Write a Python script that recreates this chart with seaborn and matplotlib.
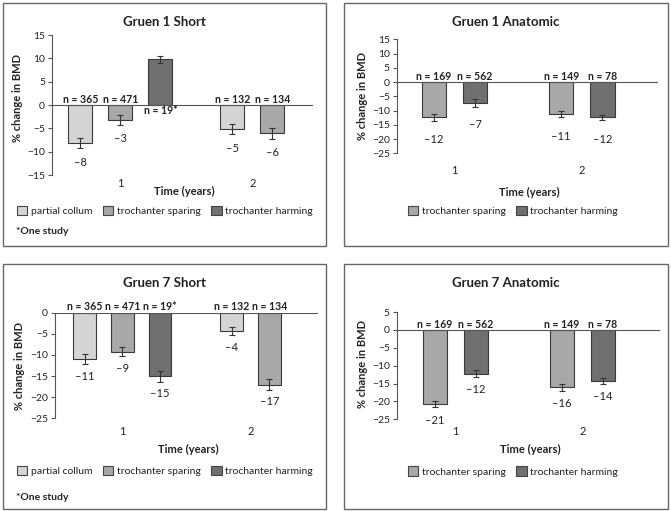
import numpy as np
import pandas as pd
import seaborn as sns
import matplotlib.pyplot as plt
from matplotlib.patches import Rectangle, Patch

sns.set_style('white')
plt.rcParams['font.family'] = ['Lato', 'DejaVu Sans']

W, H = 671, 511

years = ['1', '2']
groups = ['partial collum', 'trochanter sparing', 'trochanter harming']
colors = {'partial collum': '#d4d4d4',
          'trochanter sparing': '#a8a8a8',
          'trochanter harming': '#707070'}

# Gruen 1 Short
g1s_year = ['1', '1', '1', '2', '2']
g1s_group = ['partial collum', 'trochanter sparing', 'trochanter harming',
             'partial collum', 'trochanter sparing']
g1s_value = [-8.2, -3.2, 9.8, -5.2, -6.1]
g1s_err = [1.1, 1.1, 0.8, 1.1, 1.1]
g1s_label = ['–8', '–3', '', '–5', '–6']
g1s_n = ['n = 365', 'n = 471', 'n = 19*', 'n = 132', 'n = 134']

# Gruen 1 Anatomic
g1a_year = ['1', '1', '2', '2']
g1a_group = ['trochanter sparing', 'trochanter harming',
             'trochanter sparing', 'trochanter harming']
g1a_value = [-12.4, -7.3, -11.3, -12.4]
g1a_err = [1.2, 1.3, 1.1, 0.8]
g1a_label = ['–12', '–7', '–11', '–12']
g1a_n = ['n = 169', 'n = 562', 'n = 149', 'n = 78']

# Gruen 7 Short
g7s_year = ['1', '1', '1', '2', '2']
g7s_group = ['partial collum', 'trochanter sparing', 'trochanter harming',
             'partial collum', 'trochanter sparing']
g7s_value = [-11.0, -9.2, -15.1, -4.3, -17.1]
g7s_err = [1.2, 1.1, 1.4, 1.0, 1.3]
g7s_label = ['–11', '–9', '–15', '–4', '–17']
g7s_n = ['n = 365', 'n = 471', 'n = 19*', 'n = 132', 'n = 134']

# Gruen 7 Anatomic
g7a_year = ['1', '1', '2', '2']
g7a_group = ['trochanter sparing', 'trochanter harming',
             'trochanter sparing', 'trochanter harming']
g7a_value = [-20.8, -12.2, -16.1, -14.2]
g7a_err = [0.9, 1.0, 1.0, 0.8]
g7a_label = ['–21', '–12', '–16', '–14']
g7a_n = ['n = 169', 'n = 562', 'n = 149', 'n = 78']


def fx(px):
    return px / W


def fy(py):
    return 1 - py / H


def slot_positions(year_list, gap):
    pos = []
    for y in year_list:
        m = year_list.count(y)
        k = sum(1 for p in pos if p[0] == y)
        pos.append((y, years.index(y) * gap + k - (m - 1) / 2))
    return [p[1] for p in pos]


panels = [
    dict(title='Gruen 1 Short', year=g1s_year, group=g1s_group, value=g1s_value,
         err=g1s_err, label=g1s_label, n=g1s_n, gap=3.3,
         box=(3, 3, 326, 246), ax=(52, 35, 313, 175), xlim=(-1.71, 4.82),
         ylim=(-15, 15), title_y=22, ylab=(18, 98), xlab_y=191, xpad=2.0,
         leg_y=211, leg_x=17, note_y=232, off=19),
    dict(title='Gruen 1 Anatomic', year=g1a_year, group=g1a_group, value=g1a_value,
         err=g1a_err, label=g1a_label, n=g1a_n, gap=3.1,
         box=(344, 3, 668, 246), ax=(396.7, 39.3, 658, 153.3), xlim=(-1.41, 4.96),
         ylim=(-25, 15), title_y=22, ylab=(362, 96), xlab_y=192, xpad=8.5,
         leg_y=211, leg_x=408, note_y=None, off=22),
    dict(title='Gruen 7 Short', year=g7s_year, group=g7s_group, value=g7s_value,
         err=g7s_err, label=g7s_label, n=g7s_n, gap=3.4,
         box=(3, 264, 326, 509), ax=(55, 312.7, 318, 418.3), xlim=(-1.79, 5.19),
         ylim=(-25, 0), title_y=283, ylab=(20, 366), xlab_y=449, xpad=5.5,
         leg_y=471, leg_x=17, note_y=497, off=17),
    dict(title='Gruen 7 Anatomic', year=g7a_year, group=g7a_group, value=g7a_value,
         err=g7a_err, label=g7a_label, n=g7a_n, gap=3.1,
         box=(344, 264, 668, 509), ax=(396.7, 312, 660, 419.3), xlim=(-1.43, 4.99),
         ylim=(-25, 5), title_y=283, ylab=(362, 364), xlab_y=449, xpad=5.0,
         leg_y=471.5, leg_x=408, note_y=None, off=16),
]

fig = plt.figure(figsize=(W / 100, H / 100), dpi=100)
line_c = '#555555'
text_c = '#222222'

for p in panels:
    x0, y0, x1, y1 = p['box']
    fig.add_artist(Rectangle((fx(x0), fy(y1)), (x1 - x0) / W, (y1 - y0) / H,
                             transform=fig.transFigure, fill=False,
                             ec='#666666', lw=1.0))
    l, t, r, b = p['ax']
    ax = fig.add_axes([fx(l), fy(b), (r - l) / W, (b - t) / H])
    ax.patch.set_visible(False)

    df = pd.DataFrame({'year': p['year'], 'group': p['group'],
                       'value': p['value'], 'err': p['err'],
                       'label': p['label'], 'n': p['n']})
    df['pos'] = slot_positions(p['year'], p['gap'])

    sns.barplot(data=df, x='pos', y='value', hue='group', palette=colors,
                native_scale=True, dodge=False, width=0.6, errorbar=None,
                edgecolor='#3a3a3a', linewidth=0.8, legend=False, ax=ax)
    ax.errorbar(df['pos'], df['value'], yerr=df['err'], fmt='none',
                ecolor='#333333', elinewidth=0.8, capsize=2, capthick=0.8)

    for _, row in df.iterrows():
        sign = 1 if row['value'] < 0 else -1
        ax.annotate(row['n'], (row['pos'], 0), xytext=(0, sign * 4.2),
                    textcoords='offset points', ha='center', va='center',
                    fontsize=7.6, fontweight='bold', color=text_c)
        if row['label']:
            ax.annotate(row['label'], (row['pos'], row['value']),
                        xytext=(0, -p['off'] * 0.72), textcoords='offset points',
                        ha='center', va='center', fontsize=8, color=text_c)

    ax.axhline(0, color=line_c, lw=0.8)
    ax.set_xlim(*p['xlim'])
    ax.set_ylim(*p['ylim'])
    ax.set_yticks(np.arange(p['ylim'][0], p['ylim'][1] + 1, 5))
    centers = [i * p['gap'] for i in range(len(years))]
    ax.set_xticks(centers, years)
    ax.set_xlabel('')
    ax.set_ylabel('')
    for s in ['top', 'right', 'bottom']:
        ax.spines[s].set_visible(False)
    ax.spines['left'].set_color(line_c)
    ax.spines['left'].set_linewidth(0.8)
    ax.tick_params(axis='y', length=3, width=0.8, color=line_c, labelsize=7.5,
                   pad=2, labelcolor=text_c, left=True)
    ax.tick_params(axis='x', length=0, labelsize=8, pad=p['xpad'],
                   labelcolor=text_c)

    cx = (x0 + x1) / 2
    fig.text(fx(cx), fy(p['title_y']), p['title'], ha='center', va='center',
             fontsize=9.5, fontweight='bold', color=text_c)
    fig.text(fx(p['ylab'][0]), fy(p['ylab'][1]), '% change in BMD', rotation=90,
             ha='center', va='center', fontsize=8, fontweight='bold', color=text_c)
    fig.text(fx((l + r) / 2 + 2), fy(p['xlab_y']), 'Time (years)', ha='center',
             va='center', fontsize=8, fontweight='bold', color=text_c)

    leg_groups = [g for g in groups if g in p['group']]
    handles = [Patch(fc=colors[g], ec='#444444', lw=0.8) for g in leg_groups]
    fig.legend(handles, leg_groups, loc='center left',
               bbox_to_anchor=(fx(p['leg_x']), fy(p['leg_y'])), ncol=len(handles),
               frameon=False, fontsize=7.5, handlelength=1.0, handleheight=1.0,
               handletextpad=0.35, columnspacing=1.0, borderaxespad=0,
               borderpad=0, labelcolor=text_c)
    if p['note_y']:
        fig.text(fx(16), fy(p['note_y']), '*One study', ha='left', va='center',
                 fontsize=7.5, fontweight='bold', color=text_c)

fig.savefig('out.png', dpi=100)
